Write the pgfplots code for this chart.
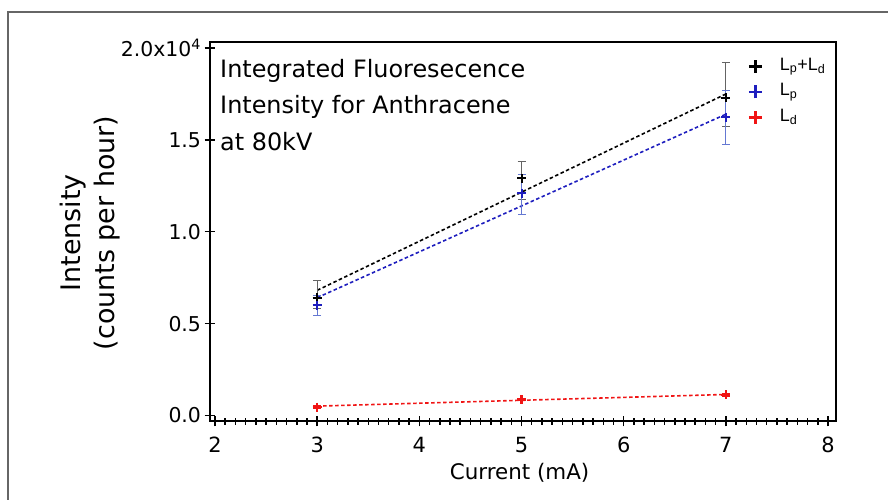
\documentclass[border=0pt]{standalone}
\usepackage{fontspec}
\setmainfont{DejaVu Sans}
\newfontfamily\legfont{Liberation Sans}
\usepackage{pgfplots}
\usepackage{pgfplotstable}
\pgfplotsset{compat=1.18}
\definecolor{myblue}{RGB}{30,30,190}
\definecolor{errblue}{RGB}{100,120,210}
\definecolor{errgray}{RGB}{100,100,100}
\definecolor{myred}{RGB}{240,20,20}
\pgfplotstableread{
x y ep em
3 6410 910 600
5 12900 900 1150
7 17290 1930 1540
}\sumdata
\pgfplotstableread{
x y ep em
3 5995 545 545
5 12080 1040 1130
7 16220 1440 1470
}\pdata
\pgfplotstableread{
x y ep em
3 450 70 70
5 870 70 70
7 1130 80 80
}\ddata
\begin{document}
\begin{tikzpicture}[x=1bp,y=1bp]
\useasboundingbox (0,0) rectangle (888,500);
\draw[gray!80!black, line width=1.5bp] (8,0) -- (8,488) -- (888,488);
\begin{axis}[
  at={(209.5bp,78.5bp)}, anchor=south west,
  width=626.5bp, height=379.5bp, scale only axis,
  xmin=1.946, xmax=8.078, ymin=-326, ymax=20320,
  axis line style={line width=2bp},
  xtick={2,3,4,5,6,7,8},
  minor x tick num=9,
  ytick={0,5000,10000,15000,20000},
  yticklabels={0.0,0.5,1.0,1.5,{2.0x10\textsuperscript{4}}},
  scaled ticks=false,
  xtick pos=bottom, ytick pos=left,
  tick align=center,
  major tick length=10bp, minor tick length=7bp,
  every tick/.style={black, line width=1.5bp},
  /pgf/number format/assume math mode=true,
  xticklabel style={font=\fontsize{21}{25}\selectfont, yshift=-7bp},
  yticklabel style={font=\fontsize{20.5}{24}\selectfont},
  xlabel={Current (mA)},
  xlabel style={font=\fontsize{21.5}{25}\selectfont, at={(axis description cs:0.495,0)}, anchor=base, yshift=-58.5bp},
  ylabel={Intensity\\(counts per hour)},
  ylabel style={font=\fontsize{27}{35}\selectfont, align=center, at={(axis description cs:-0.1907,0.4967)}, anchor=center},
  legend style={at={(0.854,0.968)}, anchor=north west, draw=none, fill=none,
    font=\legfont\fontsize{18}{20}\selectfont,
    nodes={inner sep=1bp, text height=13bp, text depth=5bp},
    row sep=5.5bp},
  legend cell align=left,
  legend image code/.code={\draw[line width=2.4bp] (0bp,0bp) -- (13bp,0bp) (6.5bp,-6.5bp) -- (6.5bp,6.5bp); \path[draw=none,fill=none] (0bp,0bp) -- (30bp,0bp);},
]
% fit lines
\addplot[black, line width=1.6bp, dash pattern=on 3.5bp off 2.5bp, forget plot] coordinates {(3,6810) (7,17490)};
\addplot[myblue, line width=1.6bp, dash pattern=on 3.5bp off 2.5bp, forget plot] coordinates {(3,6410) (7,16390)};
\addplot[myred, line width=1.6bp, dash pattern=on 3.5bp off 2.5bp, forget plot] coordinates {(3,510) (7,1145)};
% data
\addplot[black, only marks, mark=+, mark size=4.5bp, mark options={line width=2bp},
  error bars/.cd, y dir=both, y explicit,
  error bar style={errgray, line width=0.9bp},
  error mark options={rotate=90, mark size=4bp, errgray, line width=0.9bp}]
  table[x=x, y=y, y error plus=ep, y error minus=em] {\sumdata};
\addlegendentry{L\textsubscript{p}+L\textsubscript{d}}
\addplot[myblue, only marks, mark=+, mark size=4.5bp, mark options={line width=2bp},
  error bars/.cd, y dir=both, y explicit,
  error bar style={errblue, line width=0.9bp},
  error mark options={rotate=90, mark size=4bp, errblue, line width=0.9bp}]
  table[x=x, y=y, y error plus=ep, y error minus=em] {\pdata};
\addlegendentry{L\textsubscript{p}}
\addplot[myred, only marks, mark=+, mark size=4.5bp, mark options={line width=2.2bp},
  error bars/.cd, y dir=both, y explicit,
  error bar style={myred, line width=1bp},
  error mark options={rotate=90, mark size=4bp, myred, line width=1bp}]
  table[x=x, y=y, y error plus=ep, y error minus=em] {\ddata};
\addlegendentry{L\textsubscript{d}}
\end{axis}
\node[anchor=base west, font=\fontsize{24}{28}\selectfont, inner sep=0pt] at (220,422.7) {Integrated Fluoresecence};
\node[anchor=base west, font=\fontsize{24}{28}\selectfont, inner sep=0pt] at (220,386) {Intensity for Anthracene};
\node[anchor=base west, font=\fontsize{24}{28}\selectfont, inner sep=0pt] at (220,349) {at 80kV};
\end{tikzpicture}
\end{document}
